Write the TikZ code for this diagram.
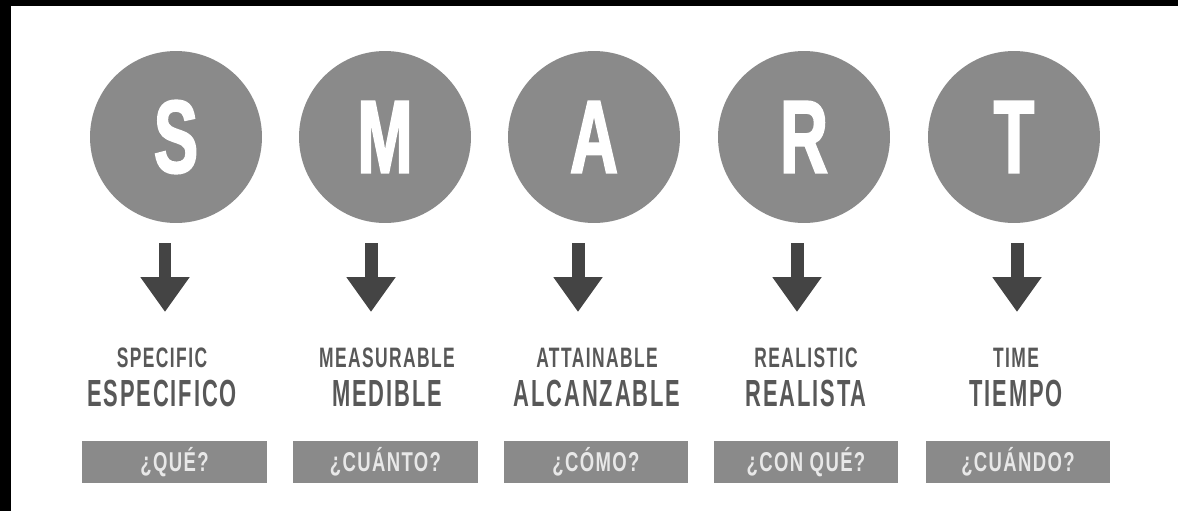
\documentclass[tikz,border=0pt]{standalone}
\usepackage{fontspec}
\usetikzlibrary{arrows.meta}

\newfontfamily\circfont[FakeStretch=0.64,FakeBold=1.8]{Liberation Sans}
\newfontfamily\enfont[FakeStretch=0.62,LetterSpace=5]{Liberation Sans}
\newfontfamily\esfont[FakeStretch=0.58,LetterSpace=5]{Liberation Sans}
\newfontfamily\askfont[FakeStretch=0.68,LetterSpace=5]{Liberation Sans}

\definecolor{smartgrey}{RGB}{138,138,138}
\definecolor{labelgrey}{RGB}{88,88,88}
\definecolor{arrowgrey}{RGB}{68,68,68}
\definecolor{asktext}{RGB}{232,232,232}

\begin{document}
\begin{tikzpicture}[x=0.02cm,y=-0.02cm,
	letter node/.style={circle,fill=smartgrey,minimum size=3.44cm,inner sep=0pt,
		text=white,font=\circfont\bfseries\fontsize{59}{59}\selectfont},
	en node/.style={anchor=base,inner sep=0pt,text=labelgrey,
		font=\enfont\bfseries\fontsize{16}{16}\selectfont},
	es node/.style={anchor=base,inner sep=0pt,text=labelgrey,
		font=\esfont\bfseries\fontsize{21.5}{21.5}\selectfont},
	ask node/.style={rectangle,fill=smartgrey,minimum width=3.7cm,minimum height=0.84cm,
		inner sep=0pt,text=asktext,text height=11pt,text depth=0pt,
		font=\askfont\bfseries\fontsize{15.5}{15.5}\selectfont},
	down arrow/.style={line width=0.26cm,draw=arrowgrey,
		-{Triangle[width=0.94cm,length=0.7cm]}}]
	
	% frame
	\fill[white] (0,0) rectangle (1178,511);
	\useasboundingbox (0,0) rectangle (1178,511);
	\fill[black] (0,0) rectangle (1178,6);
	\fill[black] (0,0) rectangle (11,511);
	
	% letters
	\node[letter node] (S) at (176,137) {S};
	\node[letter node] (M) at (385,137) {M};
	\node[letter node] (A) at (594,137) {A};
	\node[letter node] (R) at (804,137) {R};
	\node[letter node] (T) at (1014,137) {T};
	
	% arrows
	\coordinate (s top) at (165,243);  \coordinate (s tip) at (165,312);
	\coordinate (m top) at (371,243);  \coordinate (m tip) at (371,312);
	\coordinate (a top) at (578,243);  \coordinate (a tip) at (578,312);
	\coordinate (r top) at (797,243);  \coordinate (r tip) at (797,312);
	\coordinate (t top) at (1017,243); \coordinate (t tip) at (1017,312);
	\draw[down arrow] (s top) -- (s tip);
	\draw[down arrow] (m top) -- (m tip);
	\draw[down arrow] (a top) -- (a tip);
	\draw[down arrow] (r top) -- (r tip);
	\draw[down arrow] (t top) -- (t tip);
	
	% english / spanish
	\node[en node] (s en) at (162,367) {SPECIFIC};
	\node[es node] (s es) at (162,406) {ESPECIFICO};
	\node[en node] (m en) at (387,367) {MEASURABLE};
	\node[es node] (m es) at (387,406) {MEDIBLE};
	\node[en node] (a en) at (597,367) {ATTAINABLE};
	\node[es node] (a es) at (597,406) {ALCANZABLE};
	\node[en node] (r en) at (806,367) {REALISTIC};
	\node[es node] (r es) at (806,406) {REALISTA};
	\node[en node] (t en) at (1016,367) {TIME};
	\node[es node] (t es) at (1016,406) {TIEMPO};
	
	% questions
	\node[ask node] (s ask) at (174.5,462) {¿QUÉ?};
	\node[ask node] (m ask) at (385.5,462) {¿CUÁNTO?};
	\node[ask node] (a ask) at (596,462) {¿CÓMO?};
	\node[ask node] (r ask) at (806,462) {¿CON QUÉ?};
	\node[ask node] (t ask) at (1018,462) {¿CUÁNDO?};
\end{tikzpicture}
\end{document}
